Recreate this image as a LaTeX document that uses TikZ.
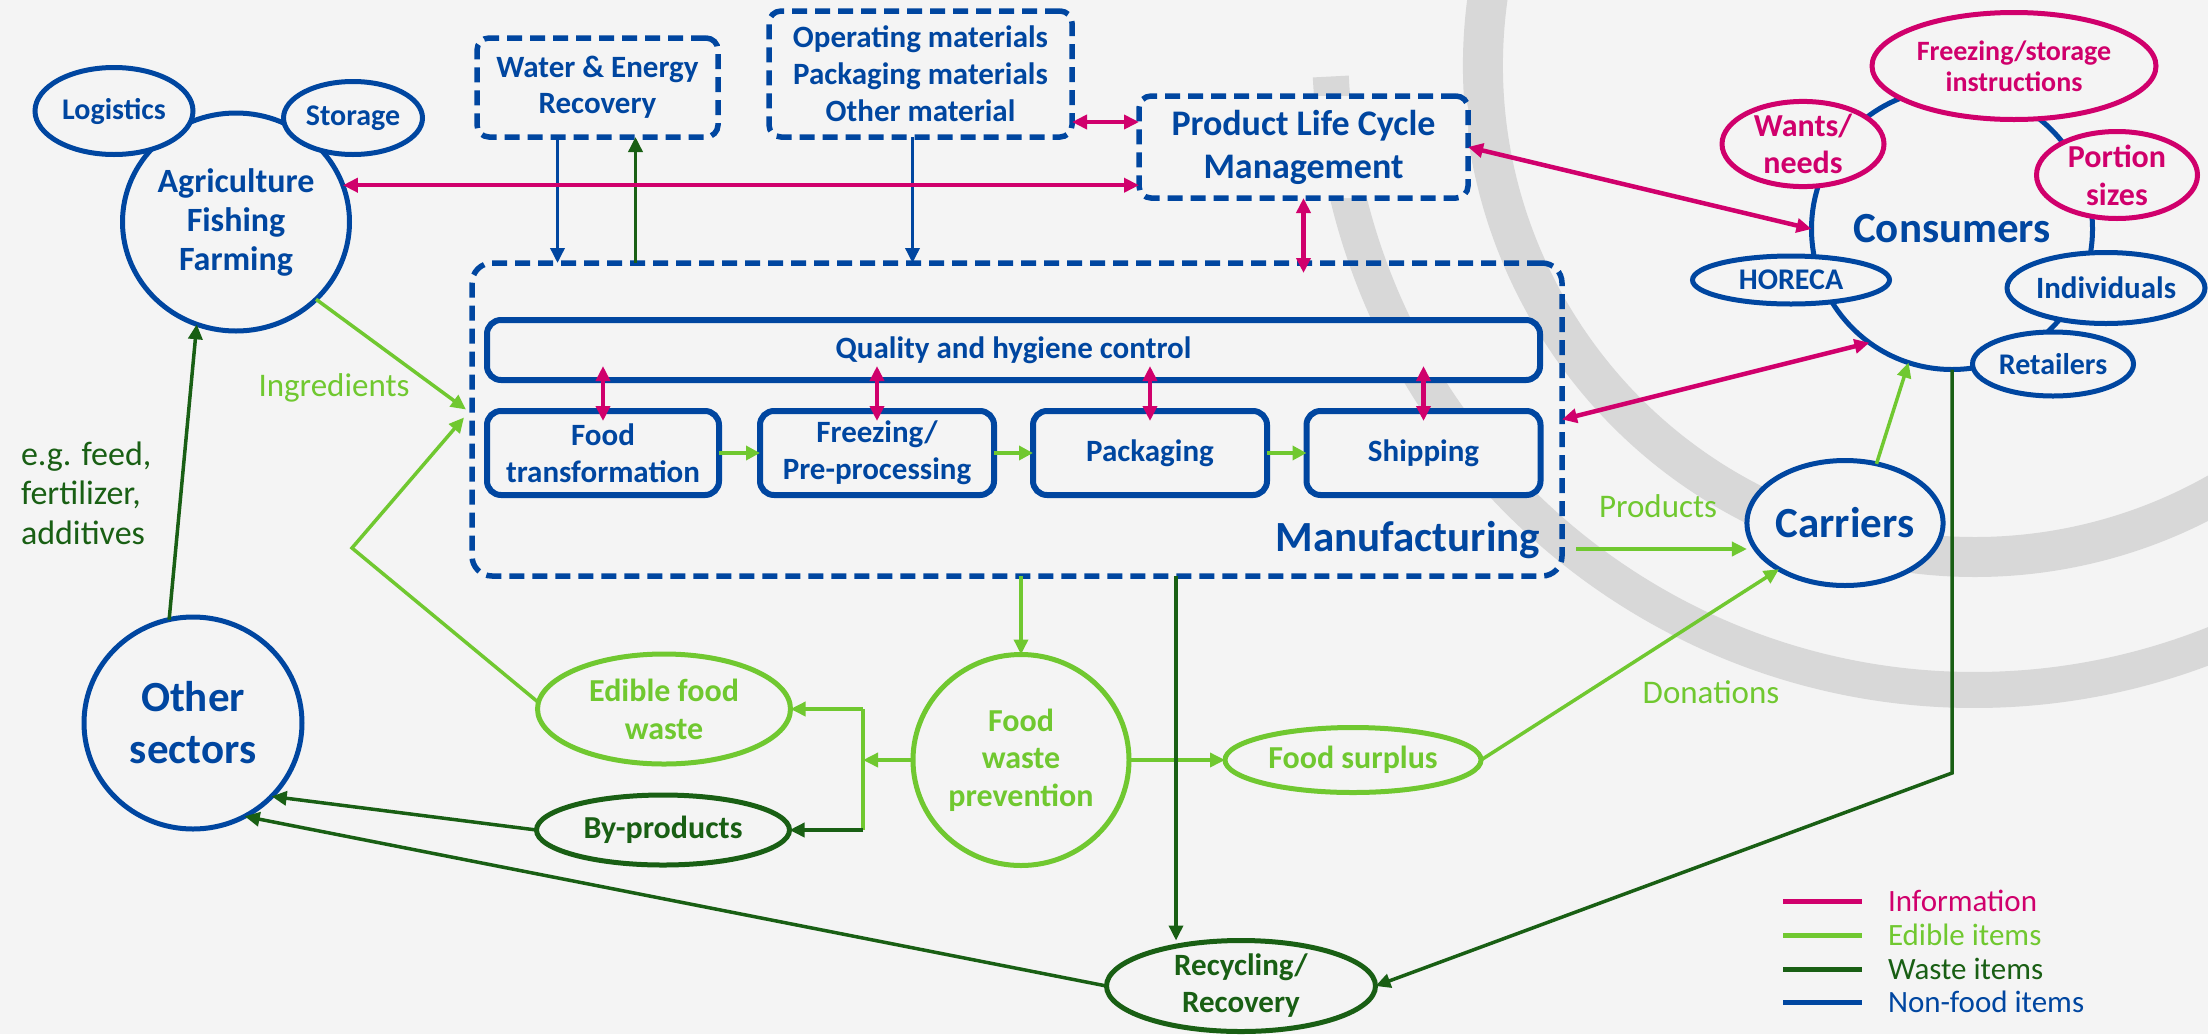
\documentclass[tikz,border=0pt]{standalone}
\usepackage{fontspec}
\setmainfont{Carlito}
\usetikzlibrary{shapes.geometric,arrows.meta}
\definecolor{cBg}{RGB}{244,244,244}
\definecolor{cNf}{RGB}{0,70,160}
\definecolor{cInfo}{RGB}{208,0,108}
\definecolor{cEd}{RGB}{112,200,48}
\definecolor{cWs}{RGB}{25,95,20}
\definecolor{cArc}{RGB}{216,216,216}
\begin{document}
\begin{tikzpicture}[x=1pt,y=-1pt,
  every node/.style={inner sep=0pt,outer sep=0pt,align=center},
  fa/.style={font={\bfseries\fontsize{31}{37}\selectfont}},
  fb/.style={font={\bfseries\fontsize{30}{36}\selectfont}},
  fc/.style={font={\bfseries\fontsize{32}{37.5}\selectfont}},
  fbig/.style={font={\bfseries\fontsize{43}{52}\selectfont}},
  flab/.style={font={\fontsize{33}{40}\selectfont}},
  nfell/.style={ellipse,draw=cNf,line width=5pt,fill=cBg,text=cNf},
  infoell/.style={ellipse,draw=cInfo,line width=5pt,fill=cBg,text=cInfo},
  edell/.style={ellipse,draw=cEd,line width=5pt,fill=cBg,text=cEd},
  wsell/.style={ellipse,draw=cWs,line width=5pt,fill=cBg,text=cWs},
  nfdash/.style={draw=cNf,line width=5.5pt,dash pattern=on 15pt off 8pt,rounded corners=12pt,text=cNf},
  nfbox/.style={draw=cNf,line width=6pt,fill=cBg,rounded corners=14pt,text=cNf,fa},
  arr/.style={-{Triangle[length=15pt,width=14pt]}},
  arrs/.style={{Triangle[length=15pt,width=14pt]}-{Triangle[length=15pt,width=14pt]}},
  infol/.style={draw=cInfo,line width=4.5pt},
  edl/.style={draw=cEd,line width=3.5pt},
  wsl/.style={draw=cWs,line width=3.5pt},
  nfl/.style={draw=cNf,line width=3.5pt}
]
\fill[cBg] (0,0) rectangle (2208,1034);
\useasboundingbox (0,0) rectangle (2208,1034);

% background arcs
\begin{scope}
\clip (0,0) rectangle (2208,1034);
\coordinate (c1) at (1975,65);
\coordinate (c2) at (1975,45);
\draw[cArc,line width=40pt] ([shift={(170:492pt)}]c1) arc[start angle=170,end angle=300,radius=492pt];
\draw[cArc,line width=36pt] ([shift={(182.8:645pt)}]c2) arc[start angle=182.8,end angle=300,radius=645pt];
\end{scope}

% manufacturing frame
\node[nfdash,rounded corners=20pt,minimum width=1090pt,minimum height=313pt] (mfg) at (1017,419.5) {};
\node[fbig,text=cNf] (mfgl) at (1408,540) {Manufacturing};

% left cluster
\node[nfell,minimum width=227pt,minimum height=218pt,font={\bfseries\fontsize{34}{39}\selectfont}] (agri) at (236,222) {Agriculture\\Fishing\\Farming};
\node[nfell,minimum width=158pt,minimum height=87pt,fb] (logi) at (114,111) {Logistics};
\node[nfell,minimum width=139pt,minimum height=73pt,fb] (stor) at (353,118) {Storage};

% top boxes
\node[nfdash,fill=cBg,minimum width=241pt,minimum height=99pt,font={\bfseries\fontsize{31}{36}\selectfont}] (we) at (597.5,87.5) {Water \& Energy\\Recovery};
\node[nfdash,fill=cBg,minimum width=303pt,minimum height=126pt,fa] (om) at (920.5,74) {Operating materials\\Packaging materials\\Other material};
\node[nfdash,fill=cBg,minimum width=329pt,minimum height=102pt,font={\bfseries\fontsize{36}{43}\selectfont}] (plc) at (1303.5,147) {Product Life Cycle\\Management};

% inner manufacturing boxes
\node[nfbox,minimum width=1053pt,minimum height=60pt] (qhc) at (1013.5,350) {Quality and hygiene control};
\node[nfbox,minimum width=232pt,minimum height=84pt] (ft) at (603,453) {Food\\transformation};
\node[nfbox,minimum width=234pt,minimum height=84pt] (fp) at (877,453) {Freezing/\\Pre-processing};
\node[nfbox,minimum width=234pt,minimum height=84pt] (pk) at (1150,453) {Packaging};
\node[nfbox,minimum width=234pt,minimum height=84pt] (sh) at (1423.5,453) {Shipping};

% consumers cluster
\node[circle,draw=cNf,line width=5pt,fill=cBg,minimum size=281pt,text=cNf,fbig] (cons) at (1952,229) {Consumers};
\node[infoell,minimum width=162pt,minimum height=79pt,fc] (wants) at (1803,144) {Wants/\\needs};
\node[infoell,minimum width=284pt,minimum height=107pt,font={\bfseries\fontsize{28}{31}\selectfont}] (freez) at (2014,66) {Freezing/storage\\instructions};
\node[infoell,minimum width=161pt,minimum height=87pt,font={\bfseries\fontsize{32}{38}\selectfont}] (port) at (2117,175) {Portion\\sizes};
\node[nfell,minimum width=197pt,minimum height=48pt,fb] (hor) at (1791,280) {HORECA};
\node[nfell,minimum width=191pt,minimum height=71pt,fa] (indiv) at (2106,288) {Individuals};
\node[nfell,minimum width=161pt,minimum height=64pt,fb] (ret) at (2053,364) {Retailers};
\node[nfell,minimum width=196pt,minimum height=125pt,fbig] (car) at (1845,523) {Carriers};

% lower nodes
\node[edell,minimum width=216pt,minimum height=211pt,fc] (fwp) at (1021,760) {Food\\waste\\prevention};
\node[edell,minimum width=253pt,minimum height=110pt,font={\bfseries\fontsize{32}{38}\selectfont}] (efw) at (664,709) {Edible food\\waste};
\node[edell,minimum width=256pt,minimum height=65pt,fc] (fs) at (1353,760) {Food surplus};
\node[wsell,minimum width=253pt,minimum height=70pt,fc] (bp) at (663,830) {By-products};
\node[wsell,minimum width=269pt,minimum height=91pt,fa] (rec) at (1241,986) {Recycling/\\Recovery};
\node[nfell,minimum width=218pt,minimum height=212pt,font={\bfseries\fontsize{43}{52}\selectfont}] (os) at (193,723) {Other\\sectors};

% labels
\node[flab,text=cEd] (ingl) at (334,388) {Ingredients};
\node[anchor=west,align=left,text=cWs,font={\fontsize{34}{39.5}\selectfont}] (egl) at (21,493) {e.g. feed,\\fertilizer,\\additives};
\node[flab,text=cEd] (prodl) at (1658,506) {Products};
\node[flab,text=cEd] (donl) at (1711,692) {Donations};

% non-food connectors
\coordinate (wed) at ([xshift=-40pt]we.south);
\coordinate (weu) at ([xshift=38pt]we.south);
\coordinate (omd) at ([xshift=-8pt]om.south);
\draw[nfl,arr] (wed) -- (wed |- mfg.north);
\draw[wsl,arr] (weu |- mfg.north) -- (weu);
\draw[nfl,arr] (omd) -- (omd |- mfg.north);

% information connectors
\draw[infol,arrs] (agri.19) -- (agri.19 -| plc.west);
\coordinate (omp) at ([yshift=-48pt]om.east);
\draw[infol,arrs] (omp) -- (omp -| plc.west);
\draw[infol,arrs] (plc.east) -- (cons.west);
\coordinate (plcb) at ([yshift=-10pt]plc.south |- mfg.north);
\draw[infol,arrs] (plc.south) -- (plcb);
\draw[infol,arrs] (mfg.east) -- (cons.234);
\foreach \b in {ft,fp,pk,sh} {
  \coordinate (qa) at ([yshift=14pt]\b.north |- qhc.south);
  \coordinate (qb) at ([yshift=-10pt]\b.north);
  \draw[infol,arrs] (qb) -- (qa);
}

% edible connectors
\coordinate (ing1) at ([shift={(-6pt,10pt)}]mfg.west);
\coordinate (ing2) at ([shift={(-8pt,2pt)}]mfg.west);
\coordinate (bend) at (352,548);
\draw[edl,arr] (agri.-44) -- (ing1);
\draw[edl,arr] (efw.177) -- (bend) -- (ing2);
\draw[edl,line width=4pt,-{Triangle[length=14pt,width=14pt]}] (ft.east) -- (fp.west);
\draw[edl,line width=4pt,-{Triangle[length=14pt,width=14pt]}] (fp.east) -- (pk.west);
\draw[edl,line width=4pt,-{Triangle[length=14pt,width=14pt]}] (pk.east) -- (sh.west);
\draw[edl,arr] (fwp.north |- mfg.south) -- (fwp.north);
\draw[edl,arr] (fwp.east) -- (fs.west);
\coordinate (jn) at ([xshift=-50pt]fwp.west);
\draw[edl,arr] (fwp.west) -- (jn);
\draw[edl] (jn |- efw.east) -- (jn |- bp.east);
\draw[edl,arr] (jn |- efw.east) -- (efw.east);
\draw[wsl,arr] (jn |- bp.east) -- (bp.east);
\coordinate (pst) at ([shift={(14pt,27pt)}]mfg.south east);
\draw[edl,arr] (pst) -- (pst -| car.west);
\draw[edl,arr] (fs.east) -- (car.215);
\draw[edl,arr] (car.62) -- (cons.252);

% waste connectors
\coordinate (rtop) at ([xshift=-65pt]rec.north);
\draw[wsl,arr] (rtop |- mfg.south) -- (rtop);
\coordinate (wb) at (1952,773);
\draw[wsl,arr] (cons.south) -- (wb) -- (rec.east);
\draw[wsl,arr] (os.103) -- (agri.249);
\draw[wsl,arr] (bp.west) -- (os.-43);
\draw[wsl,arr] (rec.west) -- (os.-61);

% legend
\node[anchor=west,text=cInfo,font={\fontsize{31}{37}\selectfont}] (lg1) at (1888,901) {Information};
\node[anchor=west,text=cEd,font={\fontsize{31}{37}\selectfont}] (lg2) at (1888,935) {Edible items};
\node[anchor=west,text=cWs,font={\fontsize{31}{37}\selectfont}] (lg3) at (1888,969) {Waste items};
\node[anchor=west,text=cNf,font={\fontsize{31}{37}\selectfont}] (lg4) at (1888,1002) {Non-food items};
\draw[cInfo,line width=5pt] ([xshift=-105pt]lg1.west) -- ([xshift=-26pt]lg1.west);
\draw[cEd,line width=5pt] ([xshift=-105pt]lg2.west) -- ([xshift=-26pt]lg2.west);
\draw[cWs,line width=5pt] ([xshift=-105pt]lg3.west) -- ([xshift=-26pt]lg3.west);
\draw[cNf,line width=5pt] ([xshift=-105pt]lg4.west) -- ([xshift=-26pt]lg4.west);
\end{tikzpicture}
\end{document}
